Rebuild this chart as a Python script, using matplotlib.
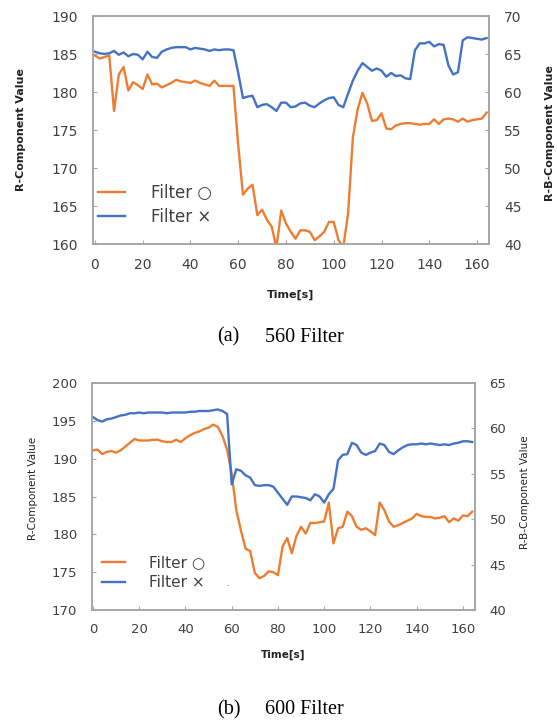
import numpy as np
import matplotlib.pyplot as plt

# time axis (s), sampled every 2 s
time_a = np.arange(0, 165, 2)
time_b = np.arange(0, 165, 2)

# (a) 560 Filter
filter_on_a = [184.8, 184.4, 184.6, 184.8, 177.5, 182.3, 183.3, 180.2, 181.3, 180.9,
               180.4, 182.3, 181.0, 181.1, 180.6, 180.9, 181.2, 181.6, 181.4, 181.3,
               181.2, 181.5, 181.2, 181.0, 180.8, 181.5, 180.8, 180.8, 180.8, 180.8,
               173.0, 166.5, 167.3, 167.8, 163.8, 164.5, 163.2, 162.3, 159.5, 164.4,
               162.7, 161.6, 160.7, 161.8, 161.8, 161.6, 160.5, 161.0, 161.6, 162.9,
               162.9, 160.5, 159.6, 164.0, 174.0, 177.7, 179.9, 178.5, 176.2, 176.3,
               177.2, 175.2, 175.1, 175.6, 175.8, 175.9, 175.9, 175.8, 175.7, 175.8,
               175.8, 176.4, 175.8, 176.4, 176.5, 176.4, 176.1, 176.5, 176.1, 176.3,
               176.4, 176.5, 177.3]
filter_off_a = [185.3, 185.1, 185.0, 185.1, 185.4, 184.9, 185.2, 184.7, 185.0, 184.9,
                184.3, 185.3, 184.6, 184.5, 185.3, 185.6, 185.8, 185.9, 185.9, 185.9,
                185.6, 185.8, 185.7, 185.6, 185.4, 185.6, 185.5, 185.6, 185.6, 185.5,
                182.5, 179.2, 179.4, 179.5, 178.0, 178.3, 178.4, 178.0, 177.5, 178.6,
                178.6, 178.0, 178.1, 178.5, 178.6, 178.2, 178.0, 178.5, 178.9, 179.2,
                179.3, 178.3, 178.0, 179.8, 181.5, 182.8, 183.8, 183.3, 182.8, 183.1,
                182.8, 182.0, 182.5, 182.1, 182.2, 181.8, 181.7, 185.5, 186.4, 186.4,
                186.6, 186.0, 186.3, 186.2, 183.5, 182.3, 182.6, 186.8, 187.2, 187.1,
                187.0, 186.9, 187.1]

# (b) 600 Filter
filter_on_b = [191.1, 191.2, 190.6, 190.9, 191.0, 190.8, 191.1, 191.6, 192.1, 192.6,
               192.4, 192.4, 192.4, 192.5, 192.5, 192.3, 192.2, 192.2, 192.5, 192.2,
               192.7, 193.1, 193.4, 193.6, 193.9, 194.1, 194.5, 194.2, 193.0, 191.2,
               188.0, 183.2, 180.5, 178.1, 177.8, 174.9, 174.2, 174.5, 175.1, 175.0,
               174.6, 178.4, 179.5, 177.5, 179.8, 181.0, 180.1, 181.5, 181.5, 181.6,
               181.7, 184.2, 178.8, 180.8, 181.0, 183.0, 182.4, 181.0, 180.6, 180.8,
               180.4, 179.9, 184.2, 183.2, 181.7, 181.0, 181.2, 181.5, 181.8, 182.1,
               182.7, 182.4, 182.3, 182.3, 182.1, 182.2, 182.4, 181.6, 182.1, 181.8,
               182.5, 182.4, 183.0]
filter_off_b = [195.5, 195.1, 194.9, 195.2, 195.3, 195.5, 195.7, 195.8, 196.0, 196.0,
                196.1, 196.0, 196.1, 196.1, 196.1, 196.1, 196.0, 196.1, 196.1, 196.1,
                196.1, 196.2, 196.2, 196.3, 196.3, 196.3, 196.4, 196.5, 196.3, 195.9,
                186.6, 188.6, 188.4, 187.8, 187.5, 186.5, 186.4, 186.5, 186.5, 186.3,
                185.5, 184.7, 183.9, 185.0, 185.0, 184.9, 184.8, 184.5, 185.3, 185.0,
                184.2, 185.3, 186.0, 189.8, 190.5, 190.6, 192.1, 191.8, 190.8, 190.5,
                190.8, 191.0, 192.0, 191.8, 190.9, 190.6, 191.1, 191.5, 191.8, 191.9,
                191.9, 192.0, 191.9, 192.0, 191.9, 191.8, 191.9, 191.8, 192.0, 192.1,
                192.3, 192.3, 192.2]

x_ticks = [0, 20, 40, 60, 80, 100, 120, 140, 160]
labels = ['Filter \u25cb', 'Filter \u00d7']
ORANGE = '#ED7D31'
BLUE = '#4472C4'
GRAY = '#A6A6A6'
TXT = '#404040'

W, H = 557, 720
fig = plt.figure(figsize=(W / 100, H / 100), dpi=100)


def px(x0, y0, x1, y1):
    return [x0 / W, 1 - y1 / H, (x1 - x0) / W, (y1 - y0) / H]


def panel(rect, t, on, off, xlim, ylim, y2lim, fs, pad):
    ax = fig.add_axes(rect)
    l1, = ax.plot(t, on, color=ORANGE, lw=1.7)
    l2, = ax.plot(t, off, color=BLUE, lw=1.7)
    ax.set_xlim(*xlim)
    ax.set_ylim(*ylim)
    ax.set_xticks(x_ticks)
    ax.set_yticks(np.arange(ylim[0], ylim[1] + 1, 5))
    ax2 = ax.twinx()
    ax2.set_ylim(*y2lim)
    ax2.set_yticks(np.arange(y2lim[0], y2lim[1] + 1, 5))
    for a in (ax, ax2):
        for s in a.spines.values():
            s.set_color(GRAY)
            s.set_linewidth(1.2)
        a.tick_params(direction='in', length=3, width=0.8, color=GRAY,
                      labelsize=fs, labelcolor=TXT, pad=pad)
    ax.tick_params(axis='x', pad=pad - 1)
    return ax, l1, l2


# (a)
ax, l1, l2 = panel(px(93, 16, 489, 244), time_a, filter_on_a, filter_off_a,
                   (-0.8, 165), (160, 190), (40, 70), 10, 11)
ax.legend([l1, l2], labels, loc='upper left', bbox_to_anchor=(98 / W, 1 - 184 / H),
          bbox_transform=fig.transFigure, frameon=False, borderpad=0, borderaxespad=0,
          handlelength=1.6, handletextpad=1.6, labelspacing=0.35, fontsize=12,
          labelcolor=TXT)
fig.text(291 / W, 1 - 295 / H, 'Time[s]', ha='center', va='center', fontsize=8,
         fontweight='bold', color='#222222')
fig.text(21 / W, 1 - 130 / H, 'R-Component Value', rotation=90, ha='center',
         va='center', fontsize=8, fontweight='bold', color='#222222')
fig.text(550 / W, 1 - 133 / H, 'R-B-Component Value', rotation=90, ha='center',
         va='center', fontsize=8, fontweight='bold', color='#222222')
fig.text(217 / W, 1 - 337 / H, '(a)', ha='left', va='center', fontsize=14.5,
         family='Liberation Serif')
fig.text(265 / W, 1 - 337 / H, '560 Filter', ha='left', va='center', fontsize=14.5,
         family='Liberation Serif')

# (b)
ax, l1, l2 = panel(px(92, 383, 475, 610), time_b, filter_on_b, filter_off_b,
                   (-0.4, 165.2), (170, 200), (40, 65), 9.5, 10.5)
ax.legend([l1, l2], labels, loc='upper left', bbox_to_anchor=(102 / W, 1 - 555 / H),
          bbox_transform=fig.transFigure, frameon=False, borderpad=0, borderaxespad=0,
          handlelength=1.5, handletextpad=1.6, labelspacing=0.35, fontsize=11,
          labelcolor=TXT)
fig.text(227 / W, 1 - 583 / H, '.', ha='center', va='center', fontsize=6, color='#222222')
fig.text(283 / W, 1 - 655 / H, 'Time[s]', ha='center', va='center', fontsize=7.5,
         fontweight='bold', color='#222222')
fig.text(33 / W, 1 - 488 / H, 'R-Component Value', rotation=90, ha='center',
         va='center', fontsize=7.5, color='#222222')
fig.text(525 / W, 1 - 492 / H, 'R-B-Component Value', rotation=90, ha='center',
         va='center', fontsize=7.5, color='#222222')
fig.text(217 / W, 1 - 710 / H, '(b)', ha='left', va='center', fontsize=14.5,
         family='Liberation Serif')
fig.text(265 / W, 1 - 710 / H, '600 Filter', ha='left', va='center', fontsize=14.5,
         family='Liberation Serif')

fig.savefig('out.png', dpi=100)
